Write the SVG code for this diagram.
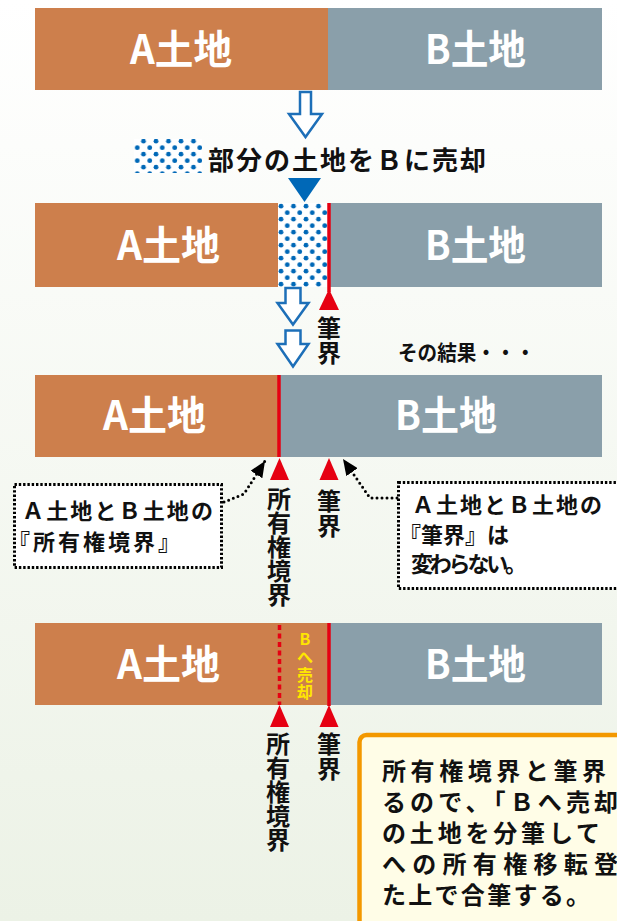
<svg xmlns="http://www.w3.org/2000/svg" width="617" height="921" viewBox="0 0 617 921">
<defs>
<linearGradient id="bg" x1="0" y1="0" x2="0" y2="1">
<stop offset="0" stop-color="#ffffff"/>
<stop offset="1" stop-color="#ecf2e6"/>
</linearGradient>
<pattern id="dots" patternUnits="userSpaceOnUse" x="278" y="203" width="12.5" height="13">
<rect width="12.5" height="13" fill="#ffffff"/>
<circle cx="3" cy="3.2" r="2.4" fill="#0068b7"/>
<circle cx="9.25" cy="9.7" r="2.4" fill="#0068b7"/>
</pattern>
<marker id="ah" markerUnits="userSpaceOnUse" viewBox="0 0 16 14" refX="16" refY="7" markerWidth="16" markerHeight="14" orient="auto">
<path d="M0,0 L16,7 L0,14 z" fill="#000"/>
</marker>
<style>
.t { font-family: "Noto Sans CJK JP", "Noto Sans", sans-serif; font-weight: bold; }
.bt { font-size: 40px; fill: #ffffff; }
.a { fill: #cd7f4c; }
.b { fill: #8a9faa; }
.red { fill: #e60012; }
.rl { stroke: #e60012; stroke-width: 3.5; }
.hollow { fill: #ffffff; stroke: #1d6fb8; stroke-width: 2.5; stroke-linejoin: miter; }
.lbl { font-size: 24px; fill: #111; }
.box { fill: #ffffff; stroke: #000; stroke-width: 3; stroke-dasharray: 2.4 1.9; }
.bx { font-size: 22px; fill: #111; }
.dl { fill: none; stroke: #000; stroke-width: 3; stroke-dasharray: 0 5; stroke-linecap: round; }
.note { font-size: 24px; fill: #111; }
</style>
</defs>
<rect width="617" height="921" fill="url(#bg)"/>

<g id="bar1">
<rect class="a" x="35" y="8" width="293" height="82"/>
<rect class="b" x="328" y="8" width="274" height="82"/>
<text class="t bt" x="130" y="64" textLength="102" lengthAdjust="spacingAndGlyphs">A土地</text>
<text class="t bt" x="425" y="64" textLength="101" lengthAdjust="spacingAndGlyphs">B土地</text>
</g>

<g id="sale-label">
<rect x="134" y="139" width="68" height="34" fill="url(#dots)"/>
<text class="t" x="208" y="170" font-size="26" fill="#111" textLength="278">部分の土地をＢに売却</text>
</g>

<g id="bar2">
<rect class="a" x="35" y="203" width="243" height="84"/>
<rect x="278" y="203" width="50" height="84" fill="url(#dots)"/>
<rect class="b" x="328" y="203" width="274" height="84"/>
<line class="rl" x1="329" y1="203" x2="329" y2="292"/>
<polygon class="red" points="319,310 339,310 329,289"/>
<text class="t bt" x="117" y="260" textLength="103" lengthAdjust="spacingAndGlyphs">A土地</text>
<text class="t bt" x="425" y="260" textLength="101" lengthAdjust="spacingAndGlyphs">B土地</text>
<text class="t lbl" x="329" y="337" text-anchor="middle"><tspan x="329" y="337">筆</tspan><tspan x="329" y="362">界</tspan></text>
</g>

<g id="result-label">
<text class="t" x="398" y="360" font-size="21" fill="#111" textLength="137" lengthAdjust="spacingAndGlyphs">その結果・・・</text>
</g>

<g id="bar3">
<rect class="a" x="35" y="375" width="244" height="82"/>
<rect class="b" x="279" y="375" width="323" height="82"/>
<line class="rl" x1="279" y1="375" x2="279" y2="457"/>
<text class="t bt" x="103" y="430" textLength="103" lengthAdjust="spacingAndGlyphs">A土地</text>
<text class="t bt" x="395" y="430" textLength="102" lengthAdjust="spacingAndGlyphs">B土地</text>
<polygon class="red" points="270,480 289,480 279.5,458"/>
<polygon class="red" points="319.5,480 338.5,480 329,458"/>
<text class="t lbl" x="279" y="508" text-anchor="middle"><tspan x="279" y="508">所</tspan><tspan x="279" y="532">有</tspan><tspan x="279" y="556">権</tspan><tspan x="279" y="580">境</tspan><tspan x="279" y="604">界</tspan></text>
<text class="t lbl" x="329" y="510" text-anchor="middle"><tspan x="329" y="510">筆</tspan><tspan x="329" y="535">界</tspan></text>
</g>

<g id="box-left">
<rect class="box" x="14.5" y="484.5" width="207" height="83"/>
<text class="t bx" x="22" y="519" textLength="191">Ａ土地とＢ土地の</text>
<text class="t bx" x="8" y="550" textLength="172">『所有権境界』</text>
</g>

<g id="box-right">
<rect class="box" x="398.5" y="482.5" width="230" height="106"/>
<text class="t bx" x="412" y="513" textLength="190">Ａ土地とＢ土地の</text>
<text class="t bx" x="399" y="543">『筆界』は</text>
<text class="t bx" x="411" y="572" textLength="116">変わらない。</text>
</g>

<g id="bar4">
<rect class="a" x="35" y="623" width="294" height="82"/>
<rect class="b" x="329" y="623" width="273" height="82"/>
<line x1="279.5" y1="625" x2="279.5" y2="705" stroke="#e60012" stroke-width="3.5" stroke-dasharray="5 3.5"/>
<line class="rl" x1="329" y1="623" x2="329" y2="706"/>
<text class="t bt" x="117" y="679" textLength="103" lengthAdjust="spacingAndGlyphs">A土地</text>
<text class="t bt" x="425" y="679" textLength="101" lengthAdjust="spacingAndGlyphs">B土地</text>
<text class="t" x="305" y="645" font-size="16" fill="#ffe600" text-anchor="middle"><tspan x="305" y="645">B</tspan><tspan x="305" y="663">へ</tspan><tspan x="305" y="681">売</tspan><tspan x="305" y="698">却</tspan></text>
<polygon class="red" points="270,727 289,727 279.5,705"/>
<polygon class="red" points="319.5,727 338.5,727 329,705"/>
<text class="t lbl" x="278" y="753" text-anchor="middle"><tspan x="278" y="753">所</tspan><tspan x="278" y="777">有</tspan><tspan x="278" y="801">権</tspan><tspan x="278" y="825">境</tspan><tspan x="278" y="849">界</tspan></text>
<text class="t lbl" x="329" y="753" text-anchor="middle"><tspan x="329" y="753">筆</tspan><tspan x="329" y="778">界</tspan></text>
</g>

<g id="note-box">
<rect x="359.5" y="735" width="280" height="210" rx="7" fill="#fffde7" stroke="#f39800" stroke-width="4.5"/>
<text class="t note" x="382" y="780" textLength="224">所有権境界と筆界</text>
<text class="t note" x="382" y="811" textLength="236">るので、「Ｂへ売却</text>
<text class="t note" x="382" y="842" textLength="218">の土地を分筆して</text>
<text class="t note" x="382" y="873" textLength="236">への所有権移転登</text>
<text class="t note" x="382" y="904" textLength="208">た上で合筆する。</text>
</g>

<g id="connectors">
<polygon class="hollow" points="300,92 311,92 311,114 322,114 305.5,137 289,114 300,114"/>
<polygon points="288,178 321,178 304.5,202" fill="#0068b7"/>
<polygon class="hollow" points="285.5,288 300.5,288 300.5,303 308.5,303 293,324.5 277.5,303 285.5,303"/>
<polygon class="hollow" points="285.5,330.5 300.5,330.5 300.5,344 308.5,344 293,366.5 277.5,344 285.5,344"/>
<path class="dl" d="M224,502 L244,494 L265,461" marker-end="url(#ah)"/>
<path class="dl" d="M397,498 L370,498 L343,459" marker-end="url(#ah)"/>
</g>
</svg>
